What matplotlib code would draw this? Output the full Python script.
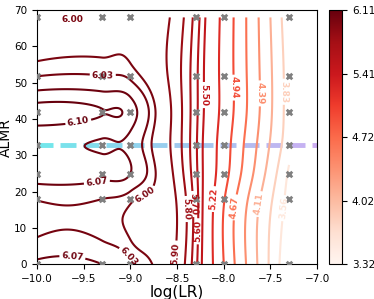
import numpy as np
import matplotlib
matplotlib.use('agg')
import matplotlib.pyplot as plt
from matplotlib.collections import LineCollection
from matplotlib.path import Path

# sampled grid: learning rates and ALMR values
lr = [1e-10, 5e-10, 1e-9, 5e-9, 1e-8, 5e-8]
almr = [0, 18, 25, 33, 42, 52, 68]
# loss at each (almr row, lr column)
loss = [
    [6.080, 6.070, 6.040, 5.63, 4.94, 3.32],
    [6.033, 6.030, 6.010, 5.65, 4.96, 3.46],
    [6.088, 6.080, 6.070, 5.63, 5.05, 3.52],
    [6.078, 6.066, 6.058, 5.62, 5.08, 3.66],
    [6.110, 6.101, 6.088, 5.63, 5.13, 3.70],
    [6.028, 6.030, 6.020, 5.63, 5.13, 3.70],
    [5.975, 5.980, 5.985, 5.66, 5.14, 3.64],
]
levels = [3.56, 3.83, 4.11, 4.39, 4.67, 4.94, 5.22, 5.50,
          5.60, 5.70, 5.80, 5.90, 6.00, 6.03, 6.07, 6.10]
# where each contour label sits (level, log(LR), ALMR)
label_spots = [
    (6.03, -9.30, 51.6), (6.10, -9.55, 38.4),
    (6.07, -9.36, 22.4), (6.00, -8.71, 12.2), (6.03, -8.98, 2.9),
    (6.07, -9.62, 1.7), (5.90, -8.54, 3.0), (5.80, -8.41, 15.2),
    (5.70, -8.33, 16.6), (5.60, -8.27, 9.2), (5.50, -8.17, 46.7),
    (5.22, -8.11, 18.0), (4.94, -7.90, 48.6), (4.67, -7.88, 15.8),
    (4.39, -7.65, 47.0), (4.11, -7.63, 16.6), (3.83, -7.40, 47.5),
    (3.56, -7.40, 15.5),
]
corner_label = (6.00, -9.62, 67.3)
cbar_ticks = [3.32, 4.02, 4.72, 5.41, 6.11]
best_almr = 33


def spline_weights(k, q):
    # natural cubic spline through knots k, as weights on the knot values
    k = np.asarray(k, float)
    n = len(k)
    h = np.diff(k)
    A = np.zeros((n, n))
    B = np.zeros((n, n))
    A[0, 0] = A[-1, -1] = 1
    for i in range(1, n - 1):
        A[i, i - 1], A[i, i], A[i, i + 1] = h[i - 1], 2 * (h[i - 1] + h[i]), h[i]
        B[i, i - 1] = 6 / h[i - 1]
        B[i, i] = -6 / h[i - 1] - 6 / h[i]
        B[i, i + 1] = 6 / h[i]
    M = np.linalg.solve(A, B)
    W = np.zeros((len(q), n))
    idx = np.clip(np.searchsorted(k, q) - 1, 0, n - 2)
    for r, (qq, i) in enumerate(zip(q, idx)):
        t, s, hi = k[i + 1] - qq, qq - k[i], h[i]
        W[r] += M[i] * (t**3 / (6 * hi) - hi * t / 6) + M[i + 1] * (s**3 / (6 * hi) - hi * s / 6)
        W[r, i] += t / hi
        W[r, i + 1] += s / hi
    return W


def hermite_weights(k, q):
    # cubic hermite with 3-point (parabola) slopes, as weights on knot values
    k = np.asarray(k, float)
    n = len(k)
    h = np.diff(k)
    S = np.zeros((n - 1, n))  # segment slopes
    for i in range(n - 1):
        S[i, i], S[i, i + 1] = -1 / h[i], 1 / h[i]
    D = np.zeros((n, n))
    for i in range(1, n - 1):
        D[i] = (h[i] * S[i - 1] + h[i - 1] * S[i]) / (h[i - 1] + h[i])
    D[0] = ((2 * h[0] + h[1]) * S[0] - h[0] * S[1]) / (h[0] + h[1])
    D[-1] = ((2 * h[-1] + h[-2]) * S[-1] - h[-1] * S[-2]) / (h[-1] + h[-2])
    W = np.zeros((len(q), n))
    idx = np.clip(np.searchsorted(k, q) - 1, 0, n - 2)
    for r, (qq, i) in enumerate(zip(q, idx)):
        hi = h[i]
        t = (qq - k[i]) / hi
        W[r, i] += 2 * t**3 - 3 * t**2 + 1
        W[r, i + 1] += -2 * t**3 + 3 * t**2
        W[r] += (t**3 - 2 * t**2 + t) * hi * D[i] + (t**3 - t**2) * hi * D[i + 1]
    return W


lx = np.log10(lr)
Z = np.array(loss)
xi = np.linspace(lx.min(), lx.max(), 300)
yi = np.linspace(0, 68, 300)
ZI = spline_weights(almr, yi) @ Z @ hermite_weights(lx, xi).T
XI, YI = np.meshgrid(xi, yi)

fig = plt.figure(figsize=(3.74, 2.99), dpi=100)
ax = fig.add_axes([0.099, 0.116, 0.749, 0.850])
cax = fig.add_axes([0.880, 0.116, 0.035, 0.850])
ax.set_xlim(-10, -7)
ax.set_ylim(0, 70)

norm = matplotlib.colors.Normalize(vmin=Z.min(), vmax=Z.max())
cs = ax.contour(XI, YI, ZI, levels=levels, cmap='Reds', norm=norm, linewidths=1.5)

# snap each label spot onto its own level's line, then label there
spots = []
for lev, px, py in label_spots:
    path = cs.get_paths()[levels.index(lev)]
    v = path.vertices
    if path.codes is not None:
        v = v[path.codes != Path.CLOSEPOLY]
    if len(v) == 0:
        continue
    d = ax.transData.transform(v) - ax.transData.transform((px, py))
    spots.append(tuple(v[np.argmin((d**2).sum(1))]))
txts = cs.clabel(manual=spots, fmt='%.2f', fontsize=6.5, inline=True, inline_spacing=3)
for t in txts:
    t.set_fontweight('bold')
lev, px, py = corner_label
ax.text(px, py, '%.2f' % lev, color=plt.get_cmap('Reds')(norm(lev)), fontsize=6.5,
        fontweight='bold', ha='center', va='center')

# dashed line at best ALMR, gradient colored
dash, gap = 0.17, 0.075
starts = np.arange(-10, -7.0, dash + gap)
segs = [[(s, best_almr), (min(s + dash, -7.0), best_almr)] for s in starts]
t = np.linspace(0, 1, len(segs))
cols = [(0.45 + 0.35 * v, 0.90 - 0.22 * v, 0.92 + 0.03 * v, 1) for v in t]
ax.add_collection(LineCollection(segs, colors=cols, linewidths=3.5, zorder=1))

X, Y = np.meshgrid(lx, almr)
ax.scatter(X.ravel(), Y.ravel(), marker='x', s=16, c='gray', linewidths=2, zorder=3)
ax.set_xticks([-10, -9.5, -9, -8.5, -8, -7.5, -7])
ax.tick_params(labelsize=7.5)
ax.set_xlabel('log(LR)', fontsize=11, labelpad=1)
ax.set_ylabel('ALMR', fontsize=10, labelpad=1)

cb = fig.colorbar(matplotlib.cm.ScalarMappable(norm=norm, cmap='Reds'), cax=cax)
cb.set_ticks(cbar_ticks)
cb.ax.tick_params(labelsize=7.5)
cb.ax.yaxis.set_major_formatter(matplotlib.ticker.FormatStrFormatter('%.2f'))

fig.savefig('out.png', dpi=100)
